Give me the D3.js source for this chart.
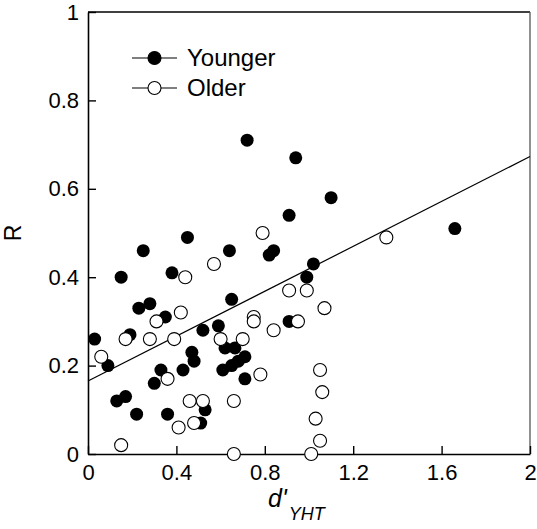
<!DOCTYPE html>
<html>
<head>
<meta charset="utf-8">
<script src="https://cdn.jsdelivr.net/npm/d3@7"></script>
<style>
  html, body { margin: 0; padding: 0; background: #fff; }
  svg { display: block; font-family: "Liberation Sans", Arial, Helvetica, sans-serif; }
</style>
</head>
<body>
<svg id="chart" width="537" height="529"></svg>
<script>
// ---- Data ----
const youngerX = [0.03,0.09,0.13,0.17,0.15,0.19,0.22,0.23,0.25,0.28,0.30,0.33,0.35,0.36,0.38,0.43,0.45,0.47,0.48,0.51,0.53,0.52,0.59,0.61,0.62,0.64,0.65,0.65,0.665,0.68,0.71,0.71,0.72,0.82,0.84,0.91,0.91,0.94,0.99,1.02,1.10,1.66];
const youngerY = [0.26,0.20,0.12,0.13,0.40,0.27,0.09,0.33,0.46,0.34,0.16,0.19,0.31,0.09,0.41,0.19,0.49,0.23,0.21,0.07,0.10,0.28,0.29,0.19,0.24,0.46,0.35,0.20,0.24,0.21,0.22,0.17,0.71,0.45,0.46,0.54,0.30,0.67,0.40,0.43,0.58,0.51];
const olderX = [0.06,0.15,0.17,0.28,0.31,0.36,0.39,0.41,0.42,0.44,0.46,0.48,0.52,0.57,0.60,0.66,0.66,0.70,0.75,0.75,0.78,0.79,0.84,0.91,0.95,0.99,1.01,1.03,1.05,1.05,1.06,1.07,1.35];
const olderY = [0.22,0.02,0.26,0.26,0.30,0.17,0.26,0.06,0.32,0.40,0.12,0.07,0.12,0.43,0.26,0.12,0.00,0.26,0.31,0.30,0.18,0.50,0.28,0.37,0.30,0.37,0.00,0.08,0.03,0.19,0.14,0.33,0.49];
const fitIntercept = 0.165;
const fitSlope = 0.254;
const xTicks = [0, 0.4, 0.8, 1.2, 1.6, 2];
const yTicks = [0, 0.2, 0.4, 0.6, 0.8, 1];
const xTickLabels = ["0", "0.4", "0.8", "1.2", "1.6", "2"];
const yTickLabels = ["0", "0.2", "0.4", "0.6", "0.8", "1"];
const legendLabels = ["Younger", "Older"];

// ---- Layout ----
const L = 88, R = 530, T = 12, B = 454;
const svg = d3.select("#chart");
const x = d3.scaleLinear().domain([0, 2]).range([L, R]);
const y = d3.scaleLinear().domain([0, 1]).range([B, T]);

// frame (top & right)
svg.append("line").attr("x1", L).attr("x2", R).attr("y1", T).attr("y2", T)
  .attr("stroke", "#000").attr("stroke-width", 1.3);
svg.append("line").attr("x1", R).attr("x2", R).attr("y1", T).attr("y2", B)
  .attr("stroke", "#555").attr("stroke-width", 1.3);

// axes
const xAxis = d3.axisBottom(x).tickValues(xTicks)
  .tickFormat((d, i) => xTickLabels[i]).tickSizeInner(-8).tickSizeOuter(0).tickPadding(10);
const yAxis = d3.axisLeft(y).tickValues(yTicks)
  .tickFormat((d, i) => yTickLabels[i]).tickSizeInner(-8).tickSizeOuter(0).tickPadding(9);

const gx = svg.append("g").attr("transform", `translate(0,${B})`).call(xAxis);
const gy = svg.append("g").attr("transform", `translate(${L},0)`).call(yAxis);
[gx, gy].forEach(g => {
  g.selectAll("path").attr("stroke", "#000").attr("stroke-width", 1.6);
  g.selectAll("line").attr("stroke", "#000").attr("stroke-width", 1.4);
  g.selectAll("text").attr("fill", "#000").style("font-size", "22px")
    .style("font-family", "'Liberation Sans', Arial, sans-serif");
});

// regression line
svg.append("line")
  .attr("x1", x(0)).attr("y1", y(fitIntercept))
  .attr("x2", x(2)).attr("y2", y(fitIntercept + fitSlope * 2))
  .attr("stroke", "#000").attr("stroke-width", 1.2);

const rad = 6.5;
// younger (filled)
svg.append("g").selectAll("circle").data(youngerX).join("circle")
  .attr("cx", d => x(d)).attr("cy", (d, i) => y(youngerY[i])).attr("r", rad)
  .attr("fill", "#000");
// older (open)
svg.append("g").selectAll("circle").data(olderX).join("circle")
  .attr("cx", d => x(d)).attr("cy", (d, i) => y(olderY[i])).attr("r", rad)
  .attr("fill", "#fff").attr("stroke", "#000").attr("stroke-width", 1.1);

// legend
const lg = svg.append("g");
legendLabels.forEach((lab, i) => {
  const ly = 58 + i * 30;
  lg.append("line").attr("x1", 132).attr("x2", 177).attr("y1", ly).attr("y2", ly)
    .attr("stroke", "#000").attr("stroke-width", 1.1);
  lg.append("circle").attr("cx", 154.5).attr("cy", ly).attr("r", rad)
    .attr("fill", i === 0 ? "#000" : "#fff").attr("stroke", "#000").attr("stroke-width", 1.1);
  lg.append("text").attr("x", 187).attr("y", ly).attr("dy", "0.35em")
    .style("font-size", "24px").text(lab);
});

// axis titles
svg.append("text").attr("transform", `translate(21,${(T + B) / 2}) rotate(-90)`)
  .attr("text-anchor", "middle").style("font-size", "23px").text("R");

const xt = svg.append("text").attr("x", 268).attr("y", 507).style("font-size", "25px");
xt.append("tspan").style("font-style", "italic").text("d'");
xt.append("tspan").attr("dy", 13).attr("dx", 2).style("font-style", "italic").style("font-size", "18px").text("YHT");
</script>
</body>
</html>
